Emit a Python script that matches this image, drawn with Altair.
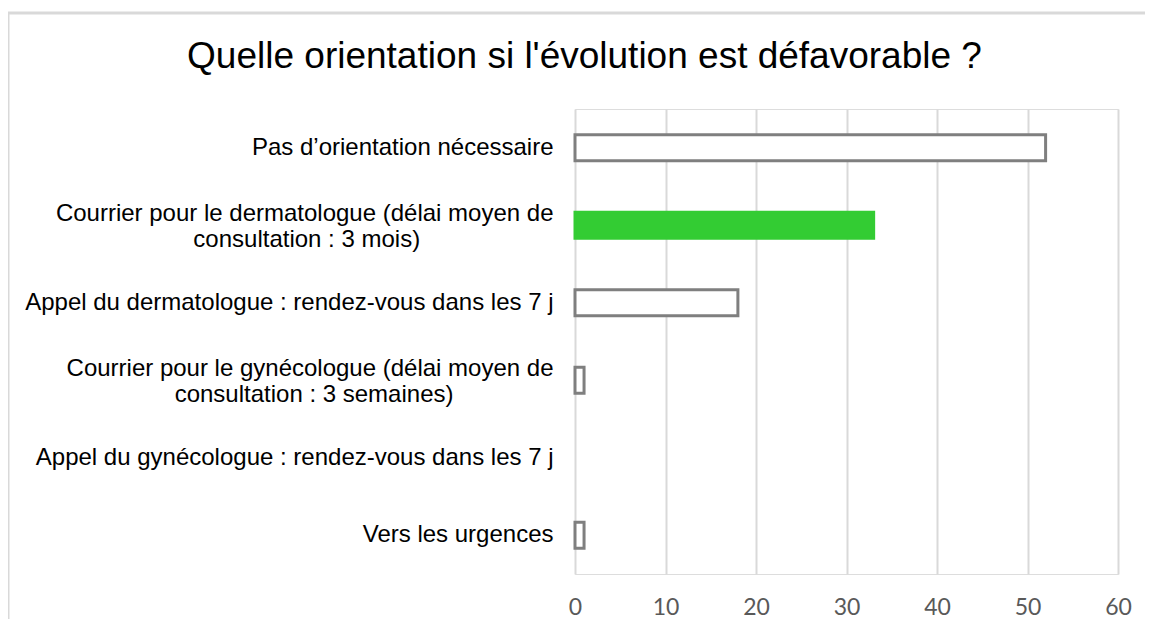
import altair as alt
import pandas as pd

NB = "\u00a0"
ZW = "\u200b"

categories = [
    "Pas d’orientation nécessaire",
    "Courrier pour le dermatologue (délai moyen de|consultation : 3 mois)" + NB * 20 + ZW,
    "Appel du dermatologue : rendez-vous dans les 7 j",
    "Courrier pour le gynécologue (délai moyen de|consultation : 3 semaines)" + NB * 15 + ZW,
    "Appel du gynécologue : rendez-vous dans les 7 j",
    "Vers les urgences",
]
values = [52, 33, 18, 1, 0, 1]
highlight = [False, True, False, False, False, False]

title_text = "Quelle orientation si l'évolution est défavorable ?"
x_ticks = [0, 10, 20, 30, 40, 50, 60]

df = pd.DataFrame({"category": categories, "value": values, "highlight": highlight})

W, H = 543, 465

bars = alt.Chart(df).mark_bar(size=26, strokeWidth=3).encode(
    y=alt.Y(
        "category:N",
        sort=categories,
        title=None,
        scale=alt.Scale(paddingInner=0.5, paddingOuter=0.25),
        axis=alt.Axis(
            labelExpr="split(datum.label, '|')",
            labelFont="Liberation Sans",
            labelFontSize=24,
            labelColor="#000000",
            labelLineHeight=26,
            labelPadding=22,
            labelLimit=600,
            labelOffset={
                "condition": {"test": "indexof(datum.label, '|') >= 0", "value": -11},
                "value": 0,
            },
            ticks=False,
            domain=False,
            grid=False,
        ),
    ),
    x=alt.X(
        "value:Q",
        title=None,
        scale=alt.Scale(domain=[0, 60], nice=False),
        axis=alt.Axis(
            values=x_ticks,
            labelFont="Lato",
            labelFontSize=23,
            labelColor="#595959",
            labelPadding=22,
            labelFlush=False,
            ticks=False,
            domain=False,
            grid=True,
            gridColor="#d9d9d9",
            gridWidth=2,
        ),
    ),
    fill=alt.condition("datum.highlight", alt.value("#33cc33"), alt.value("#ffffff")),
    stroke=alt.condition("datum.highlight", alt.value("#33cc33"), alt.value("#7f7f7f")),
    strokeOpacity=alt.condition("datum.value > 0", alt.value(1), alt.value(0)),
)

frame_df = pd.DataFrame({"a": [0]})
frame_top = alt.Chart(frame_df).mark_rule(color="#d9d9d9", strokeWidth=3).encode(
    x=alt.value(-567), x2=alt.value(W + 40), y=alt.value(-96)
)
frame_left = alt.Chart(frame_df).mark_rule(color="#d9d9d9", strokeWidth=3).encode(
    x=alt.value(-567), y=alt.value(-96), y2=alt.value(H + 50)
)

chart = alt.layer(frame_top, frame_left, bars).properties(
    width=W,
    height=H,
    autosize=alt.AutoSizeParams(type="none"),
    padding={"left": 567, "top": 101, "right": 27, "bottom": 45},
    title=alt.TitleParams(
        text=title_text,
        font="Liberation Sans",
        fontSize=37,
        fontWeight="normal",
        color="#000000",
        anchor="middle",
        dx=-262,
        offset=-64,
    ),
).configure_view(stroke=None).configure(background="white")

chart.save("out.html", embed_options={"renderer": "svg", "actions": False})
